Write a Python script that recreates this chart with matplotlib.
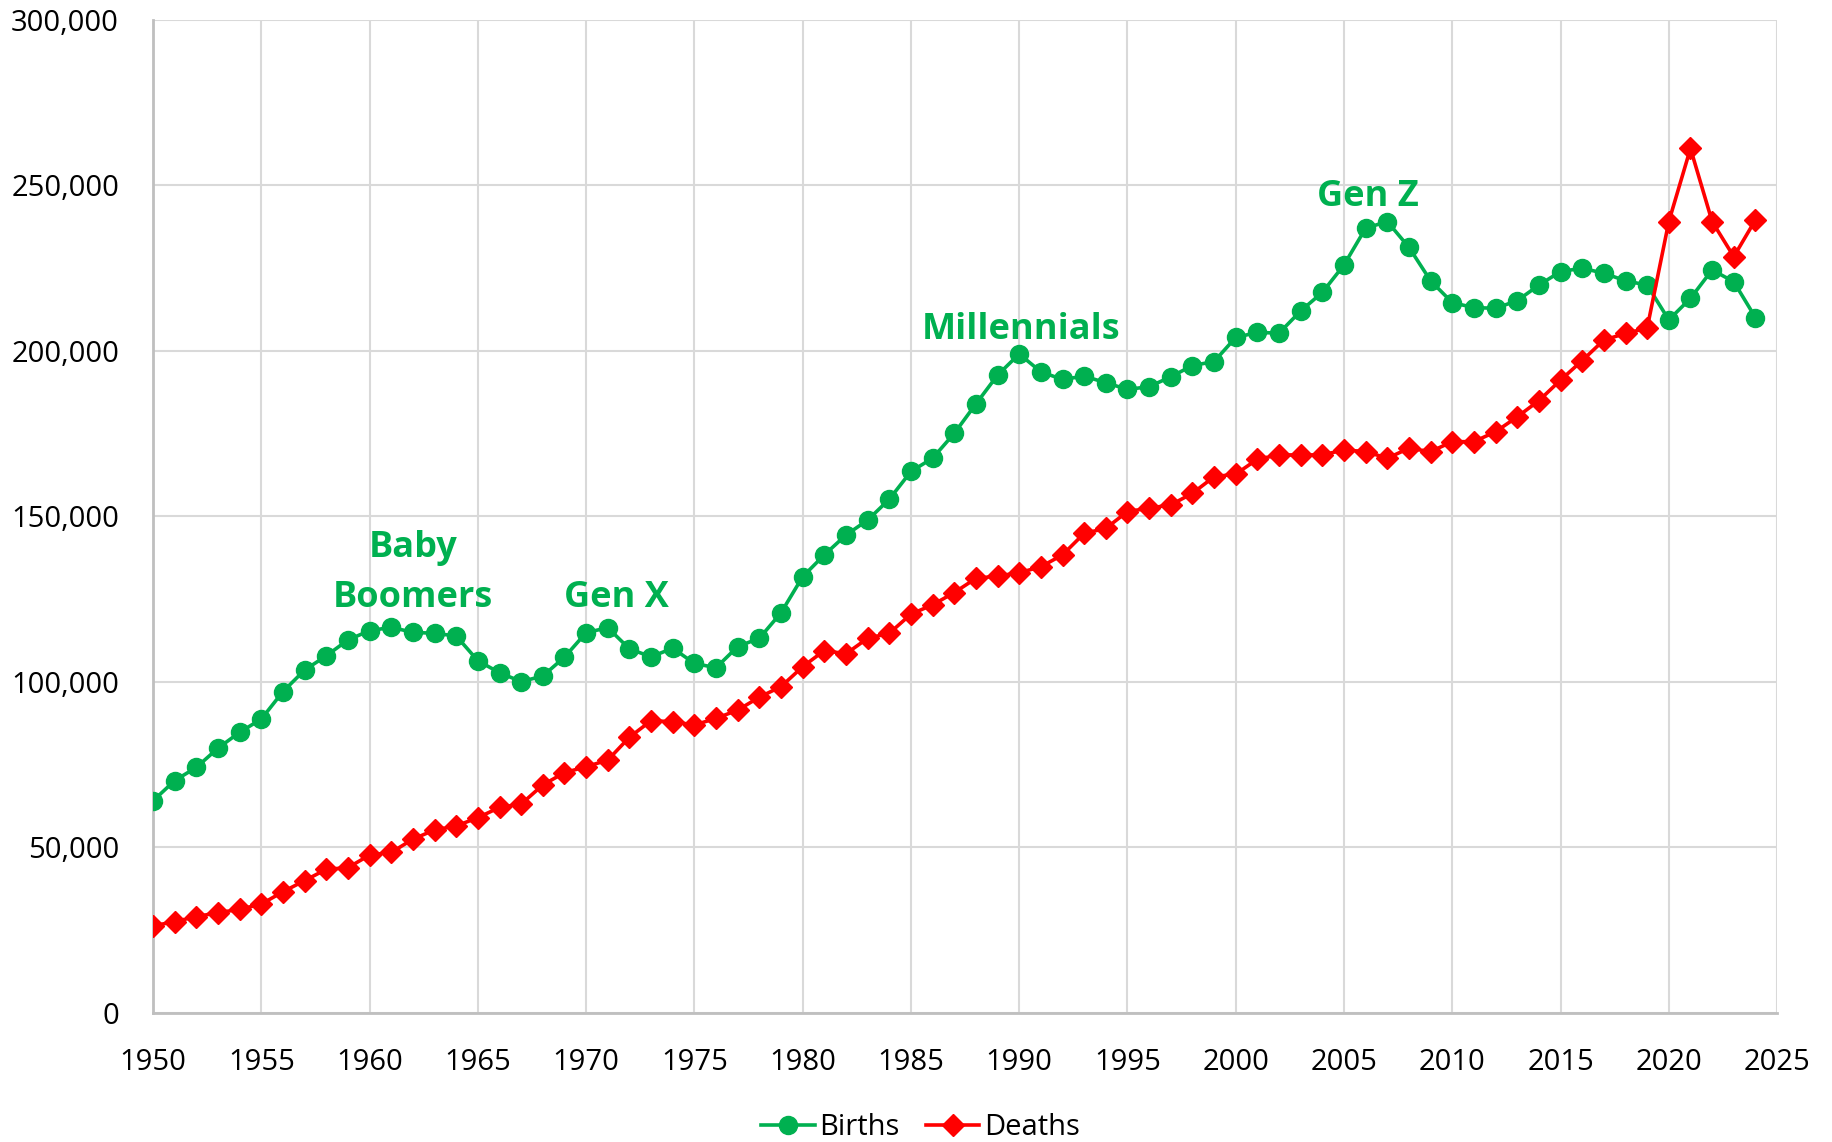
import numpy as np
import matplotlib
matplotlib.use('Agg')
import matplotlib.pyplot as plt
from matplotlib.ticker import FuncFormatter

plt.rcParams['font.family'] = ['Open Sans', 'DejaVu Sans']

years = np.arange(1950, 2025)

births = [64.1, 70.2, 74.2, 80.0, 84.8, 88.8, 97.1, 103.6, 107.9, 112.7,
          115.5, 116.5, 115.0, 114.7, 113.9, 106.4, 102.8, 100.1, 101.8, 107.5,
          114.9, 116.4, 110.0, 107.6, 110.2, 105.6, 104.3, 110.7, 113.2, 120.9,
          131.8, 138.4, 144.4, 148.9, 155.2, 163.6, 167.6, 175.1, 184.0, 192.7,
          199.1, 193.7, 191.4, 192.4, 190.4, 188.4, 189.2, 192.2, 195.6, 196.8,
          204.1, 205.6, 205.4, 212.1, 217.7, 226.0, 237.1, 239.1, 231.3, 221.2,
          214.6, 213.1, 212.9, 215.2, 219.9, 224.0, 225.0, 223.5, 221.2, 219.9,
          209.4, 215.9, 224.5, 220.9, 210.1]

deaths = [26.3, 27.6, 29.1, 30.3, 31.3, 32.9, 36.6, 40.0, 43.4, 43.9,
          47.7, 48.5, 52.5, 55.3, 56.5, 59.0, 62.1, 63.1, 68.9, 72.6,
          74.4, 76.4, 83.3, 88.3, 88.0, 87.0, 89.0, 91.5, 95.4, 98.6,
          104.6, 109.5, 108.5, 113.2, 114.7, 120.5, 123.3, 127.0, 131.3, 132.0,
          133.0, 134.8, 138.4, 144.9, 146.4, 151.5, 152.5, 153.5, 157.0, 162.0,
          162.8, 167.3, 168.6, 168.6, 168.6, 170.1, 169.6, 167.6, 170.6, 169.6,
          172.6, 172.6, 175.6, 180.1, 185.0, 191.2, 197.1, 203.3, 205.3, 206.9,
          239.1, 261.2, 239.1, 228.5, 239.6]

births = np.array(births) * 1000
deaths = np.array(deaths) * 1000

# generation labels: (text, x year, y value of the bottom line)
gen_labels = [("Baby\nBoomers", 1962, 119800),
              ("Gen X", 1971.4, 119800),
              ("Millennials", 1990.1, 201000),
              ("Gen Z", 2006.1, 241000)]

GREEN = '#00B050'
RED = '#FF0000'

fig = plt.figure(figsize=(18.33, 11.42), dpi=100)
ax = fig.add_axes([0.0835, 0.113, 0.886, 0.8695])

ax.plot(years, births, color=GREEN, lw=2.6, marker='o', ms=13, label='Births', zorder=3)
ax.plot(years, deaths, color=RED, lw=2.6, marker='D', ms=11, label='Deaths', zorder=3)

for txt, x, y in gen_labels:
    ax.text(x, y, txt, color=GREEN, fontsize=26, fontweight='bold',
            ha='center', va='bottom', linespacing=1.55)

ax.set_xlim(1950, 2025)
ax.set_ylim(0, 300000)
ax.set_xticks(np.arange(1950, 2026, 5))
ax.set_yticks(np.arange(0, 300001, 50000))
ax.yaxis.set_major_formatter(FuncFormatter(lambda v, p: f'{int(v):,}'))
ax.tick_params(axis='both', length=0, labelsize=21)
ax.tick_params(axis='x', pad=25)
ax.tick_params(axis='y', pad=24.5)

ax.grid(True, color='#D9D9D9', lw=1.5)
ax.set_axisbelow(True)
for s in ['top', 'right']:
    ax.spines[s].set_visible(False)
ax.spines['left'].set_color('#BFBFBF')
ax.spines['bottom'].set_color('#BFBFBF')
ax.spines['left'].set_linewidth(2)
ax.spines['bottom'].set_linewidth(2)

fig.legend(*ax.get_legend_handles_labels(), loc='center', bbox_to_anchor=(0.502, 0.0125),
           ncol=2, frameon=False, fontsize=21, handlelength=1.85, handletextpad=0.15,
           columnspacing=0.9, borderaxespad=0)

fig.savefig('out.png', dpi=100)
